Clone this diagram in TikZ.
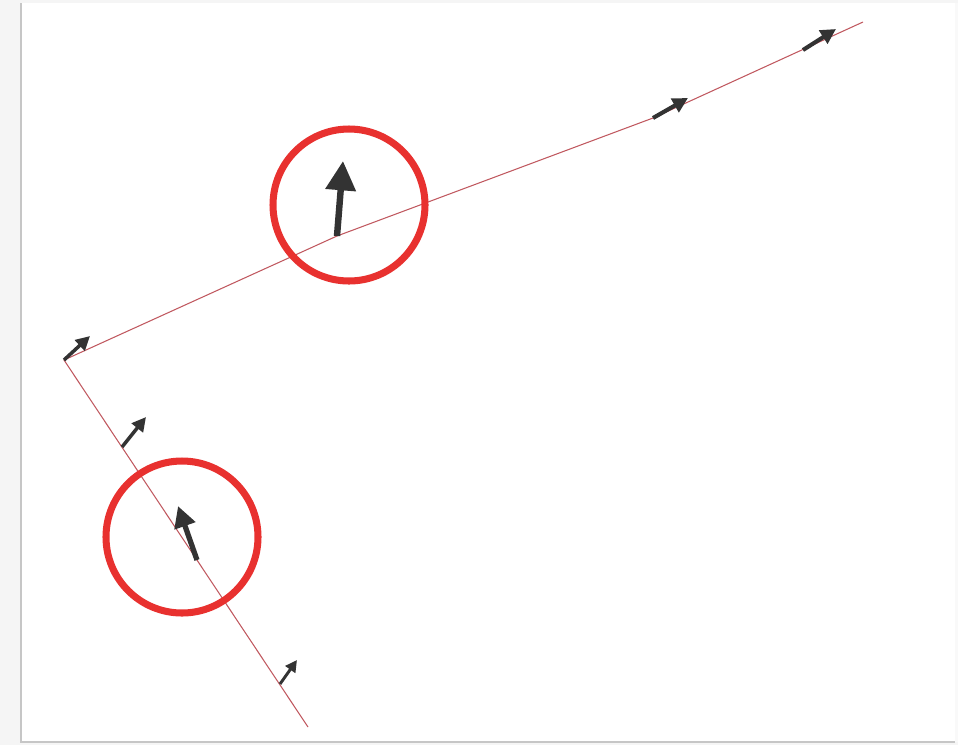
\documentclass[tikz,border=0pt]{standalone}
\usetikzlibrary{arrows.meta}
\definecolor{ringred}{HTML}{E8312F}
\definecolor{curvered}{HTML}{C0585F}
\definecolor{vecgray}{HTML}{333333}
\tikzset{
  vec/.style 2 args={vecgray, line width=#1, -{Triangle[length=#2, width=#2]}},
  ring/.style={ringred, line width=6pt},
}

\begin{document}
\begin{tikzpicture}[x=0.03cm, y=-0.03cm]
  \useasboundingbox (0,0) rectangle (958,745);
  % frame
  \fill[gray!8] (0,0) rectangle (21,745);
  \fill[gray!8] (21,0) rectangle (958,3);
  \fill[gray!8] (21,742) rectangle (958,745);
  \fill[gray!5] (955,3) rectangle (958,742);
  \draw[gray!45, line width=1pt] (21,3) -- (21,742) -- (955,742);
  % curve
  \coordinate (tail) at (308,727);
  \coordinate (corner) at (64,360);
  \coordinate (p1) at (337,236);
  \coordinate (p2) at (653,118);
  \coordinate (head) at (863,22);
  \draw[curvered, line width=0.9pt] (tail) -- (corner) -- (p1) -- (p2) -- (head);
  % vectors on the lower branch
  \draw[vec={2.5pt}{10pt}] (280,684) -- (297,660);
  \draw[vec={4.5pt}{18pt}] (197,560) -- (178,506);
  \draw[vec={3pt}{12pt}] (122,447) -- (146,417);
  % vectors on the upper branch
  \draw[vec={3pt}{12pt}] (corner) -- (90,336);
  \draw[vec={5.5pt}{25pt}] (p1) -- (343,161);
  \draw[vec={3.5pt}{13pt}] (p2) -- (688,98);
  \draw[vec={3.5pt}{13pt}] (803,50) -- (836,29);
  % marked vectors
  \draw[ring] (349,205) circle (76);
  \draw[ring] (182,537) circle (76);
\end{tikzpicture}
\end{document}
